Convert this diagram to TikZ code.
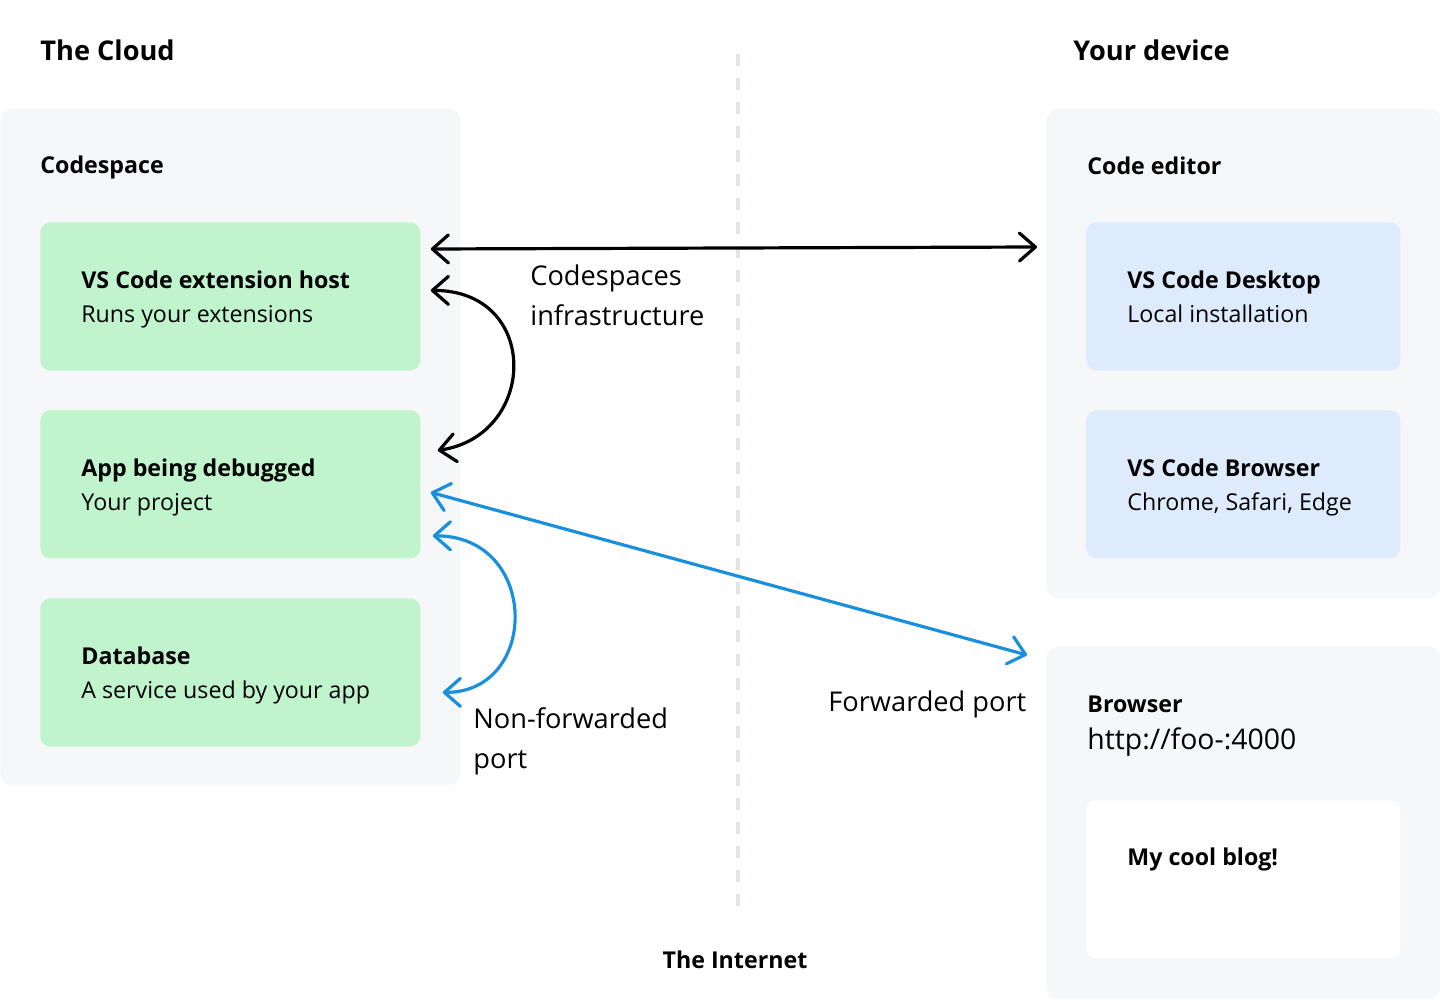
\documentclass[tikz,border=0pt]{standalone}
\usepackage{fontspec}
\setmainfont{Open Sans}
\usetikzlibrary{arrows.meta,positioning}
\definecolor{panelgray}{HTML}{F6F7F9}
\definecolor{cardgreen}{HTML}{C0F4CD}
\definecolor{cardblue}{HTML}{DDEBFD}
\definecolor{linkblue}{HTML}{1A8FDD}
\definecolor{dashgray}{HTML}{E1E4E8}

\begin{document}
\begin{tikzpicture}
  [x=0.5pt, y=-0.5pt,
   panel/.style={shape=rectangle, fill=panelgray, rounded corners=6pt, anchor=north west, inner sep=0pt},
   card/.style={shape=rectangle, rounded corners=5pt, anchor=north west, inner sep=0pt, minimum height=74pt},
   greencard/.style={card, fill=cardgreen, minimum width=190pt},
   bluecard/.style={card, fill=cardblue, minimum width=157pt},
   whitecard/.style={card, fill=white, minimum width=157pt, minimum height=79pt},
   cardtext/.style={inner sep=0pt, align=left, yshift=-2.5pt, execute at end node=\strut, font=\fontsize{11.6}{17}\selectfont},
   heading/.style={inner sep=0pt, anchor=west, font=\fontsize{13.6}{17}\selectfont\bfseries},
   label/.style={inner sep=0pt, anchor=west, font=\fontsize{11.6}{17}\selectfont\bfseries},
   note/.style={inner sep=0pt, anchor=west, align=left, font=\fontsize{13.6}{20}\selectfont},
   link/.style={line width=1.6pt, line cap=round,
     {Straight Barb[length=8pt,width=14pt,round]}-{Straight Barb[length=8pt,width=14pt,round]}},
   blacklink/.style={link, black},
   bluelink/.style={link, linkblue}]
  \useasboundingbox (0,0) rectangle (1440,1000);

  % panels
  \node[panel, minimum width=230pt, minimum height=338.5pt] (codespace) at (0,108) {};
  \node[panel, minimum width=197pt, minimum height=245pt] (editor) at (1046,108) {};
  \node[panel, minimum width=197pt, minimum height=176.5pt] (browser) at (1046,646) {};

  % divider
  \coordinate (nettop) at (738,54);
  \coordinate (netbot) at (738,918);
  \draw[dashgray, line width=2pt, dash pattern=on 6pt off 6pt] (nettop) -- (netbot);

  % headings
  \node[heading] (cloud) at (40,50) {The Cloud};
  \node[heading] (device) at (1073,50) {Your device};
  \node[label] (cstitle) at ([xshift=20pt,yshift=-29.5pt]codespace.north west) {Codespace};
  \node[label] (edtitle) at ([xshift=20.5pt,yshift=-29pt]editor.north west) {Code editor};
  \node[label] (brtitle) at ([xshift=20.5pt,yshift=-29pt]browser.north west) {Browser};
  \node[note, font=\fontsize{14.2}{20}\selectfont] (url) at (1087,742) {http://foo-:4000};
  \node[label, anchor=center] (internet) at (735,960) {The Internet};

  % cards
  \node[greencard] (ext) at (40,222) {};
  \node[greencard] (app) at (40,410) {};
  \node[greencard] (db) at (40,598) {};
  \node[bluecard] (desk) at (1086,222) {};
  \node[bluecard] (web) at (1086,410) {};
  \node[whitecard] (blog) at (1086,800) {};

  \node[cardtext, right=20.5pt of ext.west] (exttxt) {\textbf{VS Code extension host}\\Runs your extensions};
  \node[cardtext, right=20.5pt of app.west] (apptxt) {\textbf{App being debugged}\\Your project};
  \node[cardtext, right=20.5pt of db.west] (dbtxt) {\textbf{Database}\\A service used by your app};
  \node[cardtext, right=20.5pt of desk.west] (desktxt) {\textbf{VS Code Desktop}\\Local installation};
  \node[cardtext, right=20.5pt of web.west] (webtxt) {\textbf{VS Code Browser}\\Chrome, Safari, Edge};
  \node[label] (blogtxt) at ([xshift=20.5pt,yshift=-29.5pt]blog.north west) {My cool blog!};

  % notes
  \node[note] (infra) at (530,295) {Codespaces\\infrastructure};
  \node[note] (nonfwd) at (473,741) {Non-forwarded\\port};
  \node[note] (fwd) at (828,704) {Forwarded port};

  % connectors
  \coordinate (extin) at ([xshift=5pt,yshift=-13.5pt]ext.north east);
  \coordinate (deskin) at ([xshift=-24.5pt,yshift=-12.5pt]desk.north west);
  \coordinate (extloop) at ([xshift=5pt,yshift=3pt]ext.east);
  \coordinate (apploop) at ([xshift=8.5pt,yshift=17pt]app.east);
  \coordinate (appout) at ([xshift=5pt,yshift=-4pt]app.east);
  \coordinate (brin) at ([xshift=-9.5pt,yshift=-4.5pt]browser.north west);
  \coordinate (appport) at ([xshift=6pt,yshift=11.5pt]app.south east);
  \coordinate (dbport) at ([xshift=11pt,yshift=-10pt]db.east);

  \draw[blacklink] (extin) -- (deskin);
  \draw[blacklink] (extloop) .. controls +(110,0) and +(100,-15) .. (apploop);
  \draw[bluelink] (appout) -- (brin);
  \draw[bluelink] (appport) .. controls +(107,0) and +(97,0) .. (dbport);
\end{tikzpicture}
\end{document}
